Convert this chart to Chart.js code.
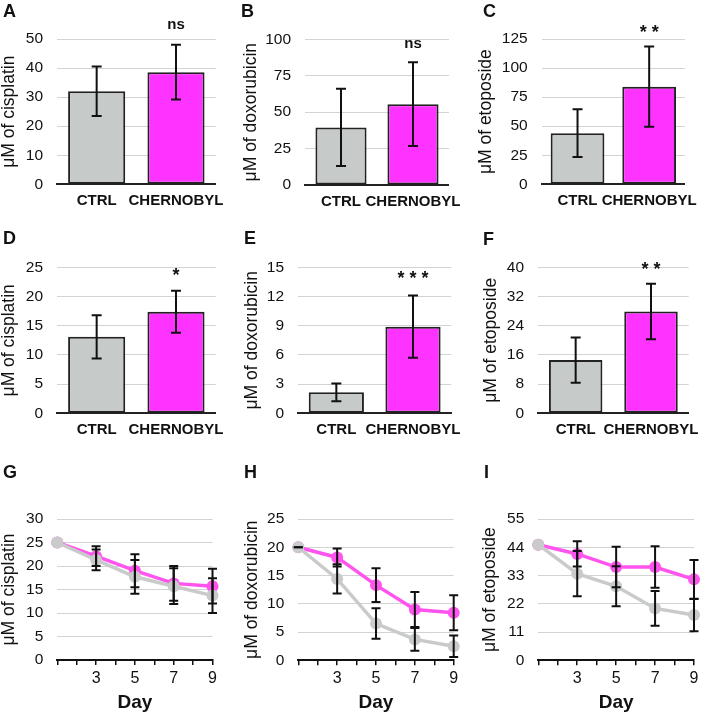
<!DOCTYPE html>
<html>
<head>
<meta charset="utf-8">
<script src="https://cdn.jsdelivr.net/npm/chart.js@4.4.0/dist/chart.umd.min.js"></script>
<style>
  body { margin: 0; background: #fff; }
  #page { position: relative; width: 709px; height: 713px; overflow: hidden; font-family: 'Liberation Sans', Arial, sans-serif; }
  #page canvas { position: absolute; }
  .letter { position: absolute; font-weight: bold; font-size: 18px; line-height: 18px; color: #111; }
</style>
</head>
<body>
<div id="page"></div>
<script>
// ---- data ----
var categories = ['CTRL', 'CHERNOBYL'];

// top row (A-C): IC50 after first treatment
var cisplatinA = [32.0, 38.6];
var cisplatinAErr = [8.5, 9.4];
var doxorubicinB = [39.5, 55.5];
var doxorubicinBErr = [26.5, 28.7];
var etoposideC = [44.0, 84.0];
var etoposideCErr = [20.5, 34.5];

// middle row (D-F)
var cisplatinD = [13.1, 17.4];
var cisplatinDErr = [3.7, 3.6];
var doxorubicinE = [2.15, 8.9];
var doxorubicinEErr = [0.9, 3.2];
var etoposideF = [14.6, 27.9];
var etoposideFErr = [6.2, 7.6];

// bottom row (G-I): time course
var days = [1, 3, 5, 7, 9];
var labelledDays = [3, 5, 7, 9];

var cisplatinCtrlG = [25, 21.3, 17.7, 15.7, 13.7];
var cisplatinCtrlGErr = [null, 2.2, 3.6, 3.8, 3.7];
var cisplatinChernoG = [25, 22.1, 19.0, 16.3, 15.7];
var cisplatinChernoGErr = [null, 2.1, 3.5, 3.7, 3.7];

var doxorubicinCtrlH = [20, 14.4, 6.5, 3.7, 2.5];
var doxorubicinCtrlHErr = [0, 2.6, 2.7, 2.0, 1.9];
var doxorubicinChernoH = [20, 18.2, 13.3, 9.0, 8.4];
var doxorubicinChernoHErr = [0, 1.6, 3.0, 3.1, 3.1];

var etoposideCtrlI = [45, 33.7, 28.8, 20.2, 17.6];
var etoposideCtrlIErr = [null, 8.8, 7.8, 6.8, 6.3];
var etoposideChernoI = [45, 41.4, 36.3, 36.3, 31.5];
var etoposideChernoIErr = [null, 4.9, 7.9, 8.1, 7.5];

// ---- styles ----
var inkColor = '#111111';
var gridColor = '#d0d4d2';
var ctrlBarColor = '#c6cac8';
var chernoBarColor = '#ff33ff';
var ctrlLineColor = '#c8cbca';
var chernoLineColor = '#ff55ee';
var fontFamily = "'Liberation Sans', Arial, sans-serif";

Chart.defaults.font.family = fontFamily;
Chart.defaults.color = inkColor;

var page = document.getElementById('page');

// Draw error bars from each dataset's "errors" list
var errorBarsPlugin = {
  id: 'errorBars',
  afterDatasetsDraw: function(chart, args, opts) {
    var ctx = chart.ctx;
    var yScale = chart.scales.y;
    ctx.save();
    ctx.strokeStyle = inkColor;
    ctx.lineWidth = opts.width;
    chart.data.datasets.forEach(function(ds, di) {
      if (!ds.errors) return;
      var meta = chart.getDatasetMeta(di);
      ds.errors.forEach(function(err, i) {
        if (err === null) return;
        var v = ds.data[i];
        v = (typeof v === 'object') ? v.y : v;
        var x = meta.data[i].x;
        var yTop = yScale.getPixelForValue(v + err);
        var yBot = yScale.getPixelForValue(v - err);
        ctx.beginPath();
        ctx.moveTo(x, yTop);
        ctx.lineTo(x, yBot);
        ctx.moveTo(x - opts.cap, yTop);
        ctx.lineTo(x + opts.cap, yTop);
        ctx.moveTo(x - opts.cap, yBot);
        ctx.lineTo(x + opts.cap, yBot);
        ctx.stroke();
      });
    });
    ctx.restore();
  }
};

// Significance mark above the CHERNOBYL bar
var sigPlugin = {
  id: 'sigLabel',
  afterDatasetsDraw: function(chart, args, opts) {
    if (!opts.text) return;
    var ctx = chart.ctx;
    var x = chart.scales.x.getPixelForValue(opts.index);
    var y = chart.scales.y.getPixelForValue(opts.value);
    ctx.save();
    ctx.fillStyle = inkColor;
    ctx.font = 'bold ' + opts.size + 'px ' + fontFamily;
    ctx.textAlign = 'center';
    ctx.textBaseline = 'alphabetic';
    ctx.fillText(opts.text, x, y);
    ctx.restore();
  }
};

function addCanvas(p) {
  var canvas = document.createElement('canvas');
  canvas.width = p.box.w;
  canvas.height = p.box.h;
  canvas.style.left = p.box.x + 'px';
  canvas.style.top = p.box.y + 'px';
  canvas.style.width = p.box.w + 'px';
  canvas.style.height = p.box.h + 'px';
  page.appendChild(canvas);

  var letter = document.createElement('div');
  letter.className = 'letter';
  letter.textContent = p.letter;
  letter.style.left = p.letterPos[0] + 'px';
  letter.style.top = (p.letterPos[1] - 2) + 'px';
  page.appendChild(letter);
  return canvas;
}

function layoutPadding(p, xHeight) {
  return {
    left: 0,
    top: p.area.t - p.box.y,
    right: p.box.x + p.box.w - p.area.r,
    bottom: p.box.y + p.box.h - p.area.b - xHeight
  };
}

function yAxis(p) {
  return {
    min: 0,
    max: p.max,
    ticks: { stepSize: p.step, padding: 14, font: { size: 15.5 }, color: inkColor },
    grid: {
      drawTicks: false,
      color: function(c) { return c.tick && c.tick.value === 0 ? 'rgba(0,0,0,0)' : gridColor; }
    },
    border: { display: false },
    title: {
      display: true,
      text: p.title,
      color: inkColor,
      font: { size: 17.5, lineHeight: 1 },
      padding: { top: p.titlePad, bottom: 0 }
    },
    afterFit: function(s) { s.width = p.area.l - p.box.x; }
  };
}

function makeBarChart(p) {
  var canvas = addCanvas(p);
  var xHeight = 40;
  new Chart(canvas, {
    type: 'bar',
    data: {
      labels: categories,
      datasets: [{
        data: p.values,
        errors: p.errors,
        backgroundColor: [ctrlBarColor, chernoBarColor],
        borderColor: '#222222',
        borderWidth: 2,
        borderSkipped: false,
        categoryPercentage: p.barFrac,
        barPercentage: 1
      }]
    },
    options: {
      responsive: false,
      animation: false,
      layout: { padding: layoutPadding(p, xHeight) },
      plugins: {
        legend: { display: false },
        tooltip: { enabled: false },
        errorBars: { width: 2, cap: 5 },
        sigLabel: { text: p.sig, index: 1, value: p.sigValue, size: p.sigSize }
      },
      scales: {
        x: {
          grid: { display: true, drawOnChartArea: false, drawTicks: false },
          border: { display: true, color: '#222222', width: 2 },
          ticks: { font: { size: 15, weight: 'bold' }, padding: 8, maxRotation: 0, minRotation: 0, autoSkip: false, color: inkColor },
          afterFit: function(s) { s.height = xHeight; }
        },
        y: yAxis(p)
      }
    },
    plugins: [errorBarsPlugin, sigPlugin]
  });
}

function toPoints(values) {
  return days.map(function(d, i) { return { x: d, y: values[i] }; });
}

function makeLineChart(p) {
  var canvas = addCanvas(p);
  var xHeight = 52;
  var lineSet = function(values, errors, color) {
    return {
      data: toPoints(values),
      errors: errors,
      borderColor: color,
      backgroundColor: color,
      borderWidth: 3.5,
      pointRadius: 6,
      pointBorderWidth: 0,
      pointBackgroundColor: color,
      tension: 0,
      clip: false
    };
  };
  new Chart(canvas, {
    type: 'line',
    data: {
      datasets: [
        lineSet(p.ctrl, p.ctrlErr, ctrlLineColor),
        lineSet(p.cherno, p.chernoErr, chernoLineColor)
      ]
    },
    options: {
      responsive: false,
      animation: false,
      layout: { padding: layoutPadding(p, xHeight) },
      plugins: {
        legend: { display: false },
        tooltip: { enabled: false },
        errorBars: { width: 2, cap: 4.5 },
        sigLabel: { text: null }
      },
      scales: {
        x: {
          type: 'linear',
          min: 1,
          max: 9,
          ticks: {
            stepSize: 1,
            padding: 4,
            font: { size: 16 },
            color: inkColor,
            maxRotation: 0,
            autoSkip: false,
            callback: function(v) { return labelledDays.indexOf(v) >= 0 ? String(v) : ''; }
          },
          grid: { drawOnChartArea: false, drawTicks: true, tickLength: 5, color: inkColor, lineWidth: 1.5 },
          border: { display: true, color: inkColor, width: 2 },
          title: { display: true, text: 'Day', color: inkColor, font: { size: 19, weight: 'bold', lineHeight: 1 }, padding: 0 },
          afterFit: function(s) { s.height = xHeight; }
        },
        y: yAxis(p)
      }
    },
    plugins: [errorBarsPlugin, sigPlugin]
  });
}

// ---- panels ----
makeBarChart({ letter: 'A', letterPos: [3, 4], box: { x: 0, y: 0, w: 236, h: 228 },
  area: { l: 57, r: 218, t: 39, b: 184.3 }, max: 50, step: 10, titlePad: 0,
  title: 'μM of cisplatin', values: cisplatinA, errors: cisplatinAErr, barFrac: 0.72,
  sig: 'ns', sigValue: 53.3, sigSize: 15 });
makeBarChart({ letter: 'B', letterPos: [241, 4], box: { x: 236, y: 0, w: 236, h: 228 },
  area: { l: 305, r: 458, t: 39.3, b: 185 }, max: 100, step: 25, titlePad: 6.5,
  title: 'μM of doxorubicin', values: doxorubicinB, errors: doxorubicinBErr, barFrac: 0.71,
  sig: 'ns', sigValue: 94.2, sigSize: 15 });
makeBarChart({ letter: 'C', letterPos: [483, 4], box: { x: 472, y: 0, w: 237, h: 228 },
  area: { l: 541.7, r: 691.7, t: 39, b: 184.3 }, max: 125, step: 25, titlePad: 5.5,
  title: 'μM of etoposide', values: etoposideC, errors: etoposideCErr, barFrac: 0.75,
  sig: '* *', sigValue: 125.5, sigSize: 18 });

makeBarChart({ letter: 'D', letterPos: [3, 231], box: { x: 0, y: 228, w: 236, h: 228 },
  area: { l: 57, r: 218, t: 267.3, b: 413.3 }, max: 25, step: 5, titlePad: 0,
  title: 'μM of cisplatin', values: cisplatinD, errors: cisplatinDErr, barFrac: 0.72,
  sig: '*', sigValue: 22.7, sigSize: 18 });
makeBarChart({ letter: 'E', letterPos: [244, 231], box: { x: 236, y: 228, w: 236, h: 228 },
  area: { l: 298, r: 458, t: 267.3, b: 413.3 }, max: 15, step: 3, titlePad: 7,
  title: 'μM of doxorubicin', values: doxorubicinE, errors: doxorubicinEErr, barFrac: 0.72,
  sig: '* * *', sigValue: 13.3, sigSize: 18 });
makeBarChart({ letter: 'F', letterPos: [483, 232], box: { x: 472, y: 228, w: 237, h: 228 },
  area: { l: 538, r: 699, t: 267.3, b: 413.3 }, max: 40, step: 8, titlePad: 10.5,
  title: 'μM of etoposide', values: etoposideF, errors: etoposideFErr, barFrac: 0.71,
  sig: '* *', sigValue: 37.8, sigSize: 18 });

makeLineChart({ letter: 'G', letterPos: [3, 465], box: { x: 0, y: 456, w: 236, h: 257 },
  area: { l: 57.3, r: 212.5, t: 519, b: 660 }, max: 30, step: 5, titlePad: 0.5,
  title: 'μM of cisplatin', ctrl: cisplatinCtrlG, ctrlErr: cisplatinCtrlGErr,
  cherno: cisplatinChernoG, chernoErr: cisplatinChernoGErr });
makeLineChart({ letter: 'H', letterPos: [244, 465], box: { x: 236, y: 456, w: 236, h: 257 },
  area: { l: 298.3, r: 453.7, t: 519, b: 660.3 }, max: 25, step: 5, titlePad: 7,
  title: 'μM of doxorubicin', ctrl: doxorubicinCtrlH, ctrlErr: doxorubicinCtrlHErr,
  cherno: doxorubicinChernoH, chernoErr: doxorubicinChernoHErr });
makeLineChart({ letter: 'I', letterPos: [484, 465], box: { x: 472, y: 456, w: 237, h: 257 },
  area: { l: 538.3, r: 694, t: 519, b: 660.3 }, max: 55, step: 11, titlePad: 9.5,
  title: 'μM of etoposide', ctrl: etoposideCtrlI, ctrlErr: etoposideCtrlIErr,
  cherno: etoposideChernoI, chernoErr: etoposideChernoIErr });
</script>
</body>
</html>
